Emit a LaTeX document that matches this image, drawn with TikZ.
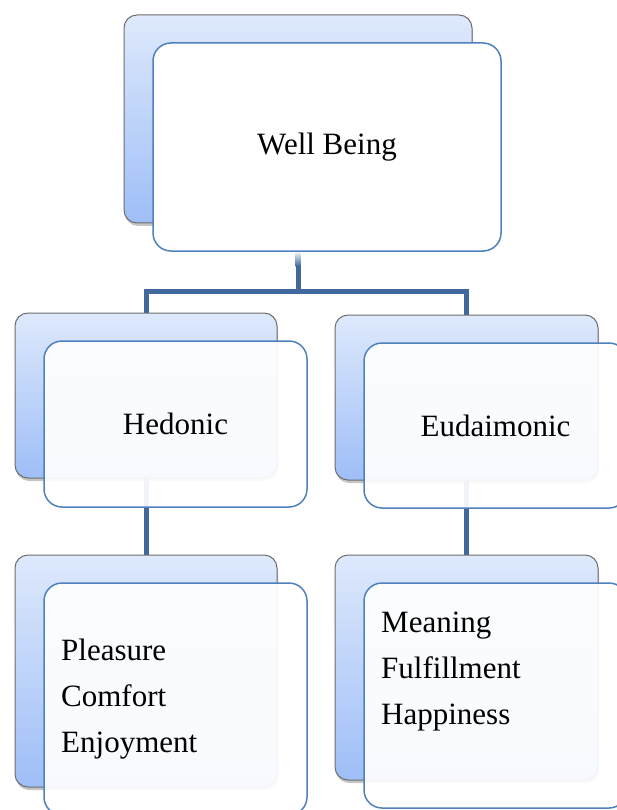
\documentclass[tikz,border=0pt]{standalone}
\usepackage{fontspec}
\setmainfont{Liberation Serif}
\usetikzlibrary{shadows}
\definecolor{connc}{RGB}{65,105,158}
\definecolor{frontc}{RGB}{79,129,189}
\definecolor{backtop}{RGB}{222,233,252}
\definecolor{backbot}{RGB}{158,190,247}
\definecolor{backedge}{RGB}{110,110,110}
\tikzset{
  backbox/.style={draw=backedge, line width=1pt, rounded corners=13pt,
    top color=backtop, bottom color=backbot, inner sep=0pt,
    drop shadow={shadow xshift=1pt, shadow yshift=-3pt, opacity=0.45}},
  frontbox/.style={draw=frontc, line width=1.5pt, rounded corners=18pt,
    fill=white, fill opacity=0.92, text opacity=1, inner sep=0pt},
  conn/.style={draw=connc, line width=5pt, line join=miter},
  lbl/.style={font=\fontsize{31}{46}\selectfont, inner sep=0pt},
  lst/.style={lbl, align=left, anchor=north west}
}
\begin{document}
\begin{tikzpicture}[x=1pt,y=-1pt]
\useasboundingbox (0,0) rectangle (617,810);
\clip (0,0) rectangle (617,810);
\fill[white] (0,0) rectangle (617,810);
\coordinate (jn) at (298,291);
\path (146,555) coordinate (lltop) (466,555) coordinate (lrtop);
% connectors (behind)
\draw[conn] (lltop) -- (lltop |- jn) -- (lrtop |- jn) -- (lrtop);
\draw[conn] (jn |- 0,251) -- (jn);
\shade[top color=white, bottom color=connc] (295.5,251) rectangle (300.5,266);
% top
\node[backbox, minimum width=348pt, minimum height=208pt] (wbb) at (298,119) {};
\node[frontbox, fill opacity=1, minimum width=348pt, minimum height=208pt, lbl] (wbf) at (327,147) {Well Being};
% hedonic
\node[backbox, minimum width=262pt, minimum height=165pt] (hdb) at (146,395.5) {};
\node[frontbox, minimum width=263pt, minimum height=166pt, lbl] (hdf) at (175.5,424) {Hedonic};
% eudaimonic
\node[backbox, minimum width=263pt, minimum height=165pt] (eub) at (466.5,397.5) {};
\node[frontbox, minimum width=263pt, minimum height=165pt, lbl] (euf) at (495.5,425.5) {Eudaimonic};
% lower left
\node[backbox, minimum width=262pt, minimum height=232pt] (ppb) at (146,671) {};
\node[frontbox, minimum width=263pt, minimum height=232pt] (ppf) at (175.5,699) {};
\node[lst] (pptxt) at (61,639) {Pleasure\\Comfort\\Enjoyment};
% lower right
\node[backbox, minimum width=263pt, minimum height=225pt] (mfb) at (466.5,667.5) {};
\node[frontbox, minimum width=263pt, minimum height=225pt] (mff) at (495.5,695.5) {};
\node[lst] (mftxt) at (381,612) {Meaning\\Fulfillment\\Happiness};
\end{tikzpicture}
\end{document}
